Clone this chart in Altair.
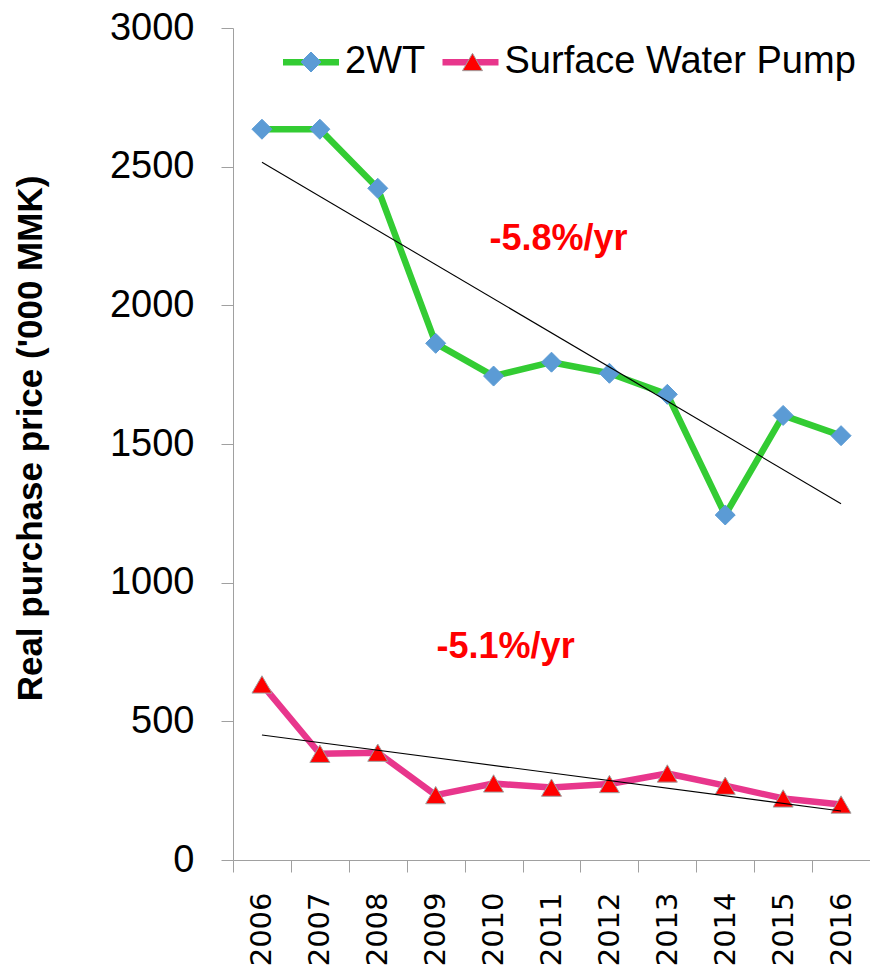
import altair as alt
import pandas as pd

# ---- data ----
years = [2006, 2007, 2008, 2009, 2010, 2011, 2012, 2013, 2014, 2015, 2016]
series_names = ["2WT", "Surface Water Pump"]
price_2wt = [2635, 2635, 2422, 1863, 1745, 1795, 1755, 1679, 1244, 1603, 1530]
price_pump = [633, 383, 387, 234, 276, 261, 274, 312, 268, 222, 200]
y_ticks = [0, 500, 1000, 1500, 2000, 2500, 3000]
note_labels = ["-5.8%/yr", "-5.1%/yr"]
note_years = [2011, 2010]
note_values = [2200, 728]
note_dx = [7, 12]

line_colors = ["#33CC33", "#E8368C"]
marker_fills = ["#5B9BD5", "#FF0000"]
marker_strokes = ["#5B9BD5", "#A0A0A0"]
marker_shapes = ["diamond", "triangle-up"]

rows = []
for name, vals in zip(series_names, [price_2wt, price_pump]):
    for yr, v in zip(years, vals):
        rows.append({"year": yr, "series": name, "marker": name, "value": v})
df = pd.DataFrame(rows)

notes = pd.DataFrame({"label": note_labels, "year": note_years, "value": note_values})

AXIS_GRAY = "#A0A0A0"

x_enc = alt.X(
    "year:O",
    bandPosition=0.5,
    scale=alt.Scale(type="band", domain=years, paddingInner=0, paddingOuter=0),
    axis=alt.Axis(
        title=None,
        labelAngle=-90,
        labelAlign="right",
        labelBaseline="middle",
        labelFont="DejaVu Sans",
        labelFontSize=29,
        labelColor="black",
        labelPadding=20,
        labelOverlap=False,
        tickSize=12,
        tickBand="extent",
        tickColor=AXIS_GRAY,
        domainColor=AXIS_GRAY,
        grid=False,
    ),
)

y_enc = alt.Y(
    "value:Q",
    scale=alt.Scale(domain=[0, 3000], nice=False),
    axis=alt.Axis(
        title="Real purchase price ('000 MMK)",
        values=y_ticks,
        format="d",
        labelFont="Liberation Sans",
        labelFontSize=38,
        labelColor="black",
        labelPadding=27,
        labelOverlap=False,
        tickSize=12,
        tickColor=AXIS_GRAY,
        domainColor=AXIS_GRAY,
        grid=False,
        titleFont="Liberation Sans",
        titleFontSize=35,
        titleFontWeight="bold",
        titleColor="black",
        titleAngle=270,
        titleAlign="center",
        titleBaseline="middle",
        titleX=-203,
        titleY=410,
    ),
)

line_legend = alt.Legend(
    title=None,
    orient="none",
    legendX=46.5,
    legendY=2.5,
    direction="horizontal",
    padding=0,
    symbolType="stroke",
    symbolSize=3136,
    symbolStrokeWidth=6.5,
    labelFont="Liberation Sans",
    labelFontSize=38,
    labelColor="black",
    labelOffset=2.5,
    labelLimit=600,
    columnPadding=3.5,
    zindex=1,
)

marker_legend = alt.Legend(
    title=None,
    orient="none",
    legendX=59,
    legendY=15,
    direction="horizontal",
    padding=0,
    symbolSize=400,
    symbolStrokeWidth=1,
    labelFont="Liberation Sans",
    labelFontSize=38,
    labelExpr="''",
    labelOffset=107.5,
    labelLimit=600,
    columnPadding=15.5,
    zindex=2,
)

base = alt.Chart(df)

lines = base.mark_line(strokeWidth=6.5, strokeJoin="round", strokeCap="round").encode(
    x=x_enc,
    y=y_enc,
    color=alt.Color(
        "series:N",
        scale=alt.Scale(range=line_colors),
        legend=line_legend,
    ),
)

points = base.mark_point(filled=True, size=400, strokeWidth=1, opacity=1).encode(
    x=x_enc,
    y=y_enc,
    shape=alt.Shape("marker:N", scale=alt.Scale(range=marker_shapes), legend=marker_legend),
    fill=alt.Fill("marker:N", scale=alt.Scale(range=marker_fills), legend=marker_legend),
    stroke=alt.Stroke("marker:N", scale=alt.Scale(range=marker_strokes), legend=marker_legend),
)

trend = (
    base.transform_regression("year", "value", groupby=["series"])
    .mark_line(color="black", strokeWidth=1.1)
    .encode(x=x_enc, y=y_enc, detail="series:N")
)

note_layers = []
for i, dx in enumerate(note_dx):
    note_layers.append(
        alt.Chart(notes.iloc[[i]])
        .mark_text(
            font="Liberation Sans",
            fontSize=36,
            fontWeight="bold",
            color="#FF0000",
            align="center",
            baseline="alphabetic",
            dx=dx,
        )
        .encode(x=x_enc, y=y_enc, text="label:N")
    )

chart = (
    alt.layer(lines, points, trend, *note_layers)
    .properties(
        width=637,
        height=832,
        padding={"left": 233, "top": 28, "right": 0, "bottom": 107},
        autosize=alt.AutoSizeParams(type="none"),
        background="white",
    )
    .configure_view(stroke=None)
)

chart.save("out.html", embed_options={"renderer": "svg", "actions": False})
